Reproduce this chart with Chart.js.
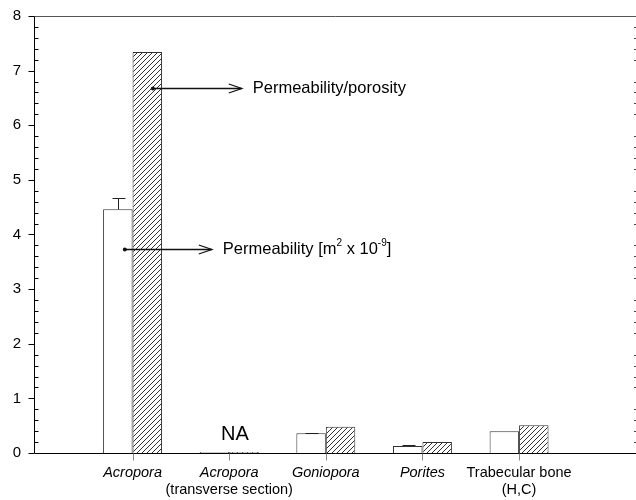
<!DOCTYPE html>
<html>
<head>
<meta charset="utf-8">
<script src="https://cdn.jsdelivr.net/npm/chart.js@4/dist/chart.umd.min.js"></script>
<style>
  html, body { margin: 0; padding: 0; background: #fff; }
  #wrap { width: 636px; height: 500px; }
</style>
</head>
<body>
<div id="wrap"><canvas id="chart" width="636" height="500"></canvas></div>
<script>
// --- Data ---
const categoryNames = ['Acropora', 'Acropora', 'Goniopora', 'Porites', 'Trabecular bone'];
const categorySubs = ['', '(transverse section)', '', '', '(H,C)'];
const categoryItalic = [true, true, true, true, false];
const categoryPos = [1, 2, 3, 4, 5];

const permeability = [4.46, 0.02, 0.36, 0.13, 0.40];
const permeabilityErr = [0.21, 0, 0.01, 0.02, 0];
const permPorosity = [7.34, 0.02, 0.48, 0.20, 0.51];

const yTicks = [0, 1, 2, 3, 4, 5, 6, 7, 8];

// annotation anchors in data units
const notes = [
  {text: 'Permeability/porosity', x0: 1.21, x1: 2.13, y: 6.68, sup: null},
  {text: 'Permeability [m', x0: 0.92, x1: 1.82, y: 3.73, sup: true}
];
const naLabel = {text: 'NA', x: 2.06, y: 0.24};

const FONT = '"Liberation Sans", Arial, sans-serif';

// --- Hatch pattern ---
function makeHatch(){
  let c = document.createElement('canvas');
  c.width = 5; c.height = 5;
  let g = c.getContext('2d');
  g.fillStyle = '#fff';
  g.fillRect(0, 0, 5, 5);
  g.strokeStyle = '#333';
  g.lineWidth = 1;
  g.beginPath();
  g.moveTo(-1, 6); g.lineTo(6, -1);
  g.moveTo(-1, 1); g.lineTo(1, -1);
  g.moveTo(4, 6); g.lineTo(6, 4);
  g.stroke();
  return g.createPattern(c, 'repeat');
}
let ctx = document.getElementById('chart').getContext('2d');
let hatch = makeHatch();

// --- Extras: axes, ticks, labels, error bars, notes ---
const extras = {
  id: 'extras',
  afterDatasetsDraw(chart){
    let c = chart.ctx;
    let xs = chart.scales.x, ys = chart.scales.y;
    let a = chart.chartArea;
    c.save();

    // error bars on open bars
    let meta = chart.getDatasetMeta(0);
    c.strokeStyle = '#222';
    c.lineWidth = 1;
    meta.data.forEach((bar, i) => {
      if (!permeabilityErr[i]) return;
      let top = Math.round(ys.getPixelForValue(permeability[i] + permeabilityErr[i])) + 0.5;
      let bx = Math.round(bar.x) + 0.5;
      c.beginPath();
      c.moveTo(bx, bar.y); c.lineTo(bx, top);
      c.moveTo(bx - 6, top); c.lineTo(bx + 7, top);
      c.stroke();
    });

    // frame lines
    let L = Math.round(a.left) + 0.5, R = Math.round(a.right), T = Math.round(a.top) + 0.5, B = Math.round(a.bottom) + 0.5;
    c.strokeStyle = '#555';
    c.beginPath(); c.moveTo(L, T); c.lineTo(R, T); c.stroke();
    c.strokeStyle = '#000';
    c.beginPath(); c.moveTo(L, T); c.lineTo(L, B); c.lineTo(R, B); c.stroke();

    // y ticks: majors outward, minors inward, dotted minors on right
    for (let v = 0; v <= 8.001; v += 0.2) {
      let y = Math.round(ys.getPixelForValue(v)) + 0.5;
      let major = Math.abs(v - Math.round(v)) < 0.01;
      c.strokeStyle = '#000';
      c.beginPath();
      if (major) { c.moveTo(L - 6, y); c.lineTo(L, y); }
      else {
        c.moveTo(L, y); c.lineTo(L + 4, y);
      }
      c.stroke();
      if (!major) {
        c.strokeStyle = '#444';
        c.beginPath(); c.moveTo(R - 2, y); c.lineTo(R, y); c.stroke();
      }
    }

    // category ticks below axis
    c.strokeStyle = '#888';
    categoryPos.forEach(p => {
      let x = Math.round(xs.getPixelForValue(p)) + 0.5;
      c.beginPath(); c.moveTo(x, B); c.lineTo(x, B + 7); c.stroke();
    });

    // category labels
    c.fillStyle = '#000';
    c.textAlign = 'center';
    c.textBaseline = 'alphabetic';
    categoryNames.forEach((name, i) => {
      let x = xs.getPixelForValue(categoryPos[i]);
      c.font = (categoryItalic[i] ? 'italic ' : '') + '14.5px ' + FONT;
      c.fillText(name, x, B + 23);
      if (categorySubs[i]) {
        c.font = '14.5px ' + FONT;
        c.fillText(categorySubs[i], x, B + 40);
      }
    });

    // NA
    c.font = '20px ' + FONT;
    c.fillText(naLabel.text, xs.getPixelForValue(naLabel.x), ys.getPixelForValue(naLabel.y));

    // arrows with notes
    notes.forEach(n => {
      let x0 = xs.getPixelForValue(n.x0), x1 = xs.getPixelForValue(n.x1);
      let y = Math.round(ys.getPixelForValue(n.y)) + 0.5;
      c.strokeStyle = '#111';
      c.fillStyle = '#111';
      c.lineWidth = 1.6;
      c.beginPath(); c.moveTo(x0, y); c.lineTo(x1, y); c.stroke();
      c.lineWidth = 1.3;
      c.beginPath(); c.moveTo(x1 - 13, y - 4.5); c.lineTo(x1, y); c.lineTo(x1 - 13, y + 4.5); c.stroke();
      c.beginPath(); c.arc(x0, y, 2, 0, Math.PI * 2); c.fill();

      c.fillStyle = '#000';
      c.textAlign = 'left';
      c.textBaseline = 'middle';
      c.font = '16.5px ' + FONT;
      let tx = x1 + 11;
      c.fillText(n.text, tx, y);
      if (n.sup) {
        tx += c.measureText(n.text).width;
        c.font = '10px ' + FONT;
        c.fillText('2', tx, y - 6);
        tx += c.measureText('2').width;
        c.font = '16.5px ' + FONT;
        c.fillText(' x 10', tx, y);
        tx += c.measureText(' x 10').width;
        c.font = '10px ' + FONT;
        c.fillText('-9', tx, y - 6);
        tx += c.measureText('-9').width;
        c.font = '16.5px ' + FONT;
        c.fillText(']', tx, y);
      }
    });
    c.restore();
  }
};

// --- Chart ---
new Chart(ctx, {
  type: 'bar',
  data: {
    datasets: [{
      label: 'Permeability',
      data: permeability.map((v, i) => ({x: categoryPos[i], y: v})),
      backgroundColor: '#fff',
      borderColor: '#333',
      borderWidth: 1,
      categoryPercentage: 0.61,
      barPercentage: 1
    }, {
      label: 'Permeability/porosity',
      data: permPorosity.map((v, i) => ({x: categoryPos[i], y: v})),
      backgroundColor: hatch,
      borderColor: '#333',
      borderWidth: 1,
      categoryPercentage: 0.61,
      barPercentage: 1
    }]
  },
  options: {
    responsive: false,
    animation: false,
    layout: { padding: {top: 16, right: 0, left: 0, bottom: 0} },
    plugins: { legend: {display: false}, tooltip: {enabled: false} },
    scales: {
      x: {
        type: 'linear',
        offset: false,
        min: -0.02,
        max: 6.21,
        grid: {display: false},
        border: {display: false},
        ticks: {display: false},
        afterFit(s){ s.height = 47; }
      },
      y: {
        min: 0,
        max: 8,
        afterBuildTicks(s){ s.ticks = yTicks.map(v => ({value: v})); },
        grid: {display: false, drawTicks: true, tickLength: 8},
        border: {display: false},
        ticks: {
          color: '#000',
          padding: 5,
          font: {family: FONT, size: 15}
        },
        afterFit(s){ s.width = 34; }
      }
    }
  },
  plugins: [extras]
});
</script>
</body>
</html>
